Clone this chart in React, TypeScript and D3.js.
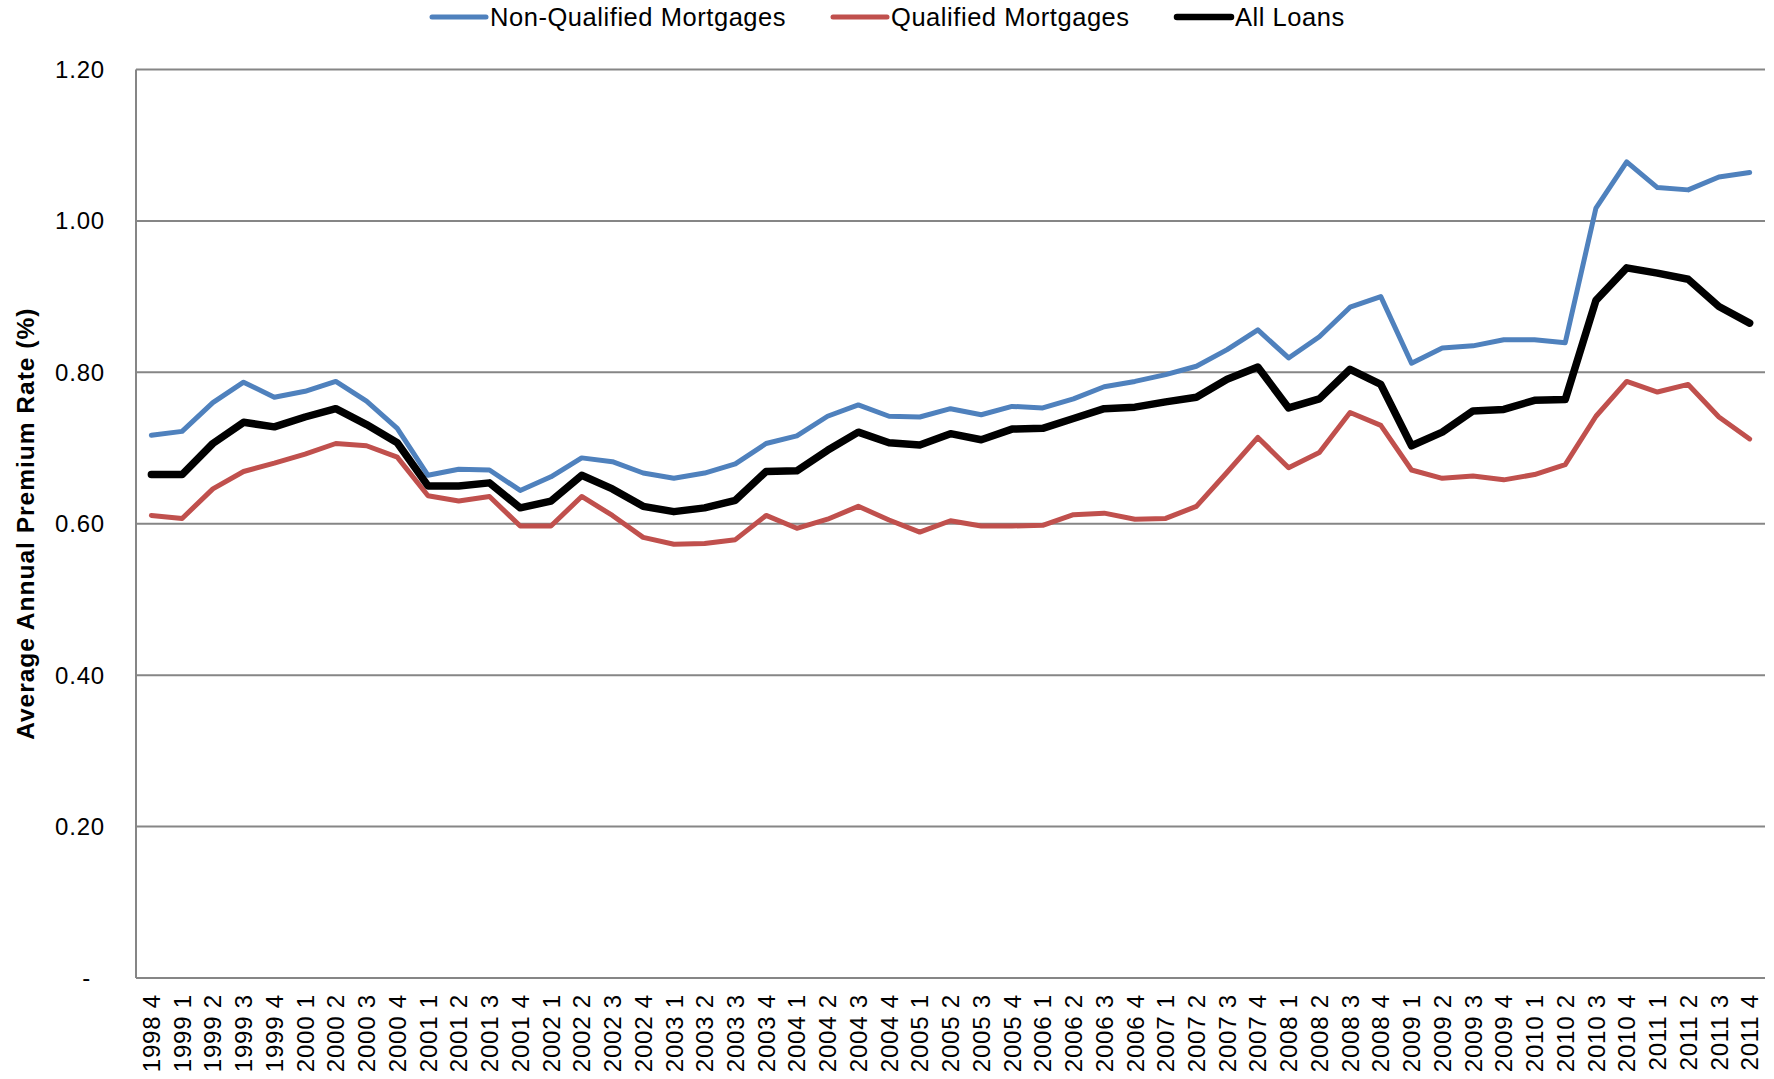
import React from "react";
import * as d3 from "d3";

const quarters: string[] = [
  "1998 4",
  "1999 1", "1999 2", "1999 3", "1999 4",
  "2000 1", "2000 2", "2000 3", "2000 4",
  "2001 1", "2001 2", "2001 3", "2001 4",
  "2002 1", "2002 2", "2002 3", "2002 4",
  "2003 1", "2003 2", "2003 3", "2003 4",
  "2004 1", "2004 2", "2004 3", "2004 4",
  "2005 1", "2005 2", "2005 3", "2005 4",
  "2006 1", "2006 2", "2006 3", "2006 4",
  "2007 1", "2007 2", "2007 3", "2007 4",
  "2008 1", "2008 2", "2008 3", "2008 4",
  "2009 1", "2009 2", "2009 3", "2009 4",
  "2010 1", "2010 2", "2010 3", "2010 4",
  "2011 1", "2011 2", "2011 3", "2011 4",
];

const nonQualified: number[] = [
  0.717, 0.722, 0.760, 0.787, 0.767, 0.775, 0.788, 0.762, 0.726, 0.664,
  0.672, 0.671, 0.644, 0.662, 0.687, 0.682, 0.667, 0.660, 0.667, 0.679,
  0.706, 0.716, 0.742, 0.757, 0.742, 0.741, 0.752, 0.744, 0.755, 0.753,
  0.765, 0.781, 0.788, 0.797, 0.808, 0.830, 0.856, 0.819, 0.847, 0.886,
  0.900, 0.812, 0.832, 0.835, 0.843, 0.843, 0.839, 1.017, 1.078, 1.044,
  1.041, 1.058, 1.064,
];

const qualified: number[] = [
  0.611, 0.607, 0.646, 0.669, 0.680, 0.692, 0.706, 0.703, 0.688, 0.637,
  0.630, 0.636, 0.597, 0.597, 0.636, 0.611, 0.582, 0.573, 0.574, 0.579,
  0.611, 0.594, 0.606, 0.623, 0.605, 0.589, 0.604, 0.597, 0.597, 0.598,
  0.612, 0.614, 0.606, 0.607, 0.623, 0.668, 0.714, 0.674, 0.694, 0.747,
  0.730, 0.671, 0.660, 0.663, 0.658, 0.665, 0.678, 0.742, 0.788, 0.774,
  0.784, 0.741, 0.712,
];

const allLoans: number[] = [
  0.665, 0.665, 0.706, 0.734, 0.728, 0.741, 0.752, 0.731, 0.707, 0.650,
  0.650, 0.654, 0.621, 0.630, 0.664, 0.646, 0.623, 0.616, 0.621, 0.631,
  0.669, 0.670, 0.697, 0.721, 0.707, 0.704, 0.719, 0.711, 0.725, 0.726,
  0.739, 0.752, 0.754, 0.761, 0.767, 0.791, 0.807, 0.753, 0.765, 0.804,
  0.784, 0.703, 0.721, 0.749, 0.751, 0.763, 0.764, 0.895, 0.938, 0.931,
  0.923, 0.887, 0.865,
];

const yTicks: number[] = [0, 0.2, 0.4, 0.6, 0.8, 1.0, 1.2];
const yTickLabels: string[] = ["-", "0.20", "0.40", "0.60", "0.80", "1.00", "1.20"];

const seriesNames: string[] = ["Non-Qualified Mortgages", "Qualified Mortgages", "All Loans"];
const seriesColors: string[] = ["#4F81BD", "#C0504D", "#000000"];
const seriesWidths: number[] = [5, 5, 7.5];

const W = 1774;
const H = 1079;
const left = 136;
const right = 1765;
const top = 69.5;
const bottom = 978;
const FONT = "'Liberation Sans', Arial, Helvetica, sans-serif";
const GRID = "#868686";

export default function App() {
  const x = d3.scalePoint<string>().domain(quarters).range([left, right]).padding(0.5);
  const y = d3.scaleLinear().domain([0, 1.2]).range([bottom, top]);

  const seriesData = [nonQualified, qualified, allLoans];
  const line = d3
    .line<number>()
    .x((_, i) => x(quarters[i]) as number)
    .y((d) => y(d));

  const legendX = [432, 833, 1177];

  return (
    <svg
      width={W}
      height={H}
      style={{ position: "absolute", left: 0, top: 0, background: "#fff" }}
      fontFamily={FONT}
    >
      <rect x={0} y={0} width={W} height={H} fill="#fff" />
      {yTicks.filter((t) => t > 0).map((t) => (
        <line key={t} x1={left} x2={right} y1={y(t)} y2={y(t)} stroke={GRID} strokeWidth={2} />
      ))}
      <line x1={left} x2={left} y1={top} y2={bottom} stroke={GRID} strokeWidth={2} />
      <line x1={left} x2={right} y1={bottom} y2={bottom} stroke={GRID} strokeWidth={2} />

      {yTicks.map((t, i) => (
        <text
          key={t}
          x={t === 0 ? 91 : 105}
          y={y(t)}
          dy="0.35em"
          textAnchor="end"
          fontSize={24}
          letterSpacing={0.8}
          fill="#000"
        >
          {yTickLabels[i]}
        </text>
      ))}

      {quarters.map((q) => (
        <text
          key={q}
          transform={`translate(${x(q)},${994}) rotate(-90)`}
          textAnchor="end"
          dy="0.36em"
          fontSize={24}
          letterSpacing={0.8}
          fill="#000"
        >
          {q}
        </text>
      ))}

      <text
        transform={`translate(${25},${(top + bottom) / 2}) rotate(-90)`}
        textAnchor="middle"
        dy="0.36em"
        fontSize={24.5}
        fontWeight="bold"
        letterSpacing={1.0}
        fill="#000"
      >
        Average Annual Premium Rate (%)
      </text>

      {seriesData.map((s, k) => (
        <path
          key={seriesNames[k]}
          d={line(s) || ""}
          fill="none"
          stroke={seriesColors[k]}
          strokeWidth={seriesWidths[k]}
          strokeLinejoin="round"
          strokeLinecap="round"
        />
      ))}

      {seriesNames.map((n, k) => (
        <g key={n}>
          <line
            x1={legendX[k]}
            x2={legendX[k] + 54}
            y1={17}
            y2={17}
            stroke={seriesColors[k]}
            strokeWidth={k === 2 ? 6.5 : 5}
            strokeLinecap="round"
          />
          <text x={legendX[k] + 58} y={26} fontSize={25.5} letterSpacing={0.55} fill="#000">
            {n}
          </text>
        </g>
      ))}
    </svg>
  );
}
